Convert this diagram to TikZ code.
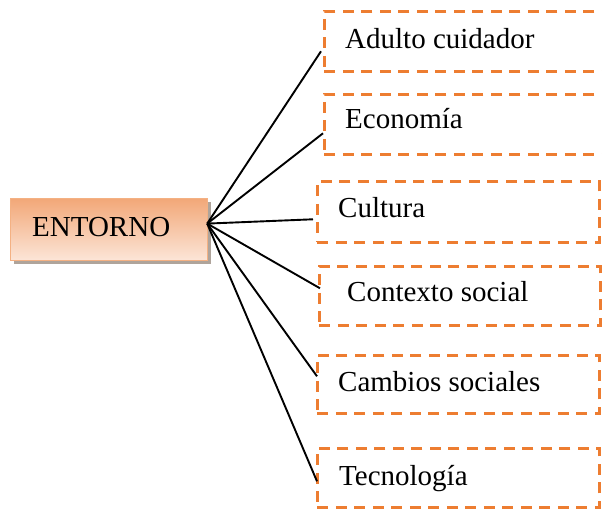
\documentclass[tikz,border=0pt]{standalone}
\usepackage{fontspec}
\setmainfont{Liberation Serif}
\usetikzlibrary{shadows}
\definecolor{dorange}{HTML}{ED7D31}
\definecolor{eTop}{HTML}{F2A878}
\definecolor{eBot}{HTML}{FCE6D8}
\definecolor{eBorder}{HTML}{F4B183}
\definecolor{shadowgray}{HTML}{AFA49B}
\tikzset{
  dbox/.style={draw=dorange, line width=2.6pt, dash pattern=on 11pt off 7.5pt, rectangle, inner sep=0pt, anchor=north west},
  lbl/.style={font=\fontsize{29}{34}\selectfont, inner sep=0pt, anchor=base west},
  conn/.style={line width=1.9pt, black},
  mainbox/.style={rectangle, inner sep=0pt, anchor=north west, top color=eTop, bottom color=eBot, draw=eBorder, line width=1.2pt,
    drop shadow={shadow xshift=3pt, shadow yshift=-3pt, fill=shadowgray, opacity=1}}
}
\begin{document}
\begin{tikzpicture}[x=1pt,y=-1pt]
\useasboundingbox (0,0) rectangle (602,510);
\clip (0,0) rectangle (602,510);
% central box
\node[mainbox, minimum width=197pt, minimum height=62pt] (e) at (10,198) {};
\node[lbl] (te) at (32,237) {ENTORNO};
% dashed boxes
\node[dbox, minimum width=290pt, minimum height=60pt] (b1) at (323,10) {};
\node[dbox, minimum width=290pt, minimum height=60pt] (b2) at (323,93) {};
\node[dbox, minimum width=282pt, minimum height=61pt] (b3) at (316,180) {};
\node[dbox, minimum width=281pt, minimum height=59pt] (b4) at (318,265) {};
\node[dbox, minimum width=282pt, minimum height=58pt] (b5) at (316,354) {};
\node[dbox, minimum width=282pt, minimum height=59pt] (b6) at (316,447) {};
% labels
\node[lbl] (t1) at (345,49) {Adulto cuidador};
\node[lbl] (t2) at (345,129) {Economía};
\node[lbl] (t3) at (338,218) {Cultura};
\node[lbl] (t4) at (347,302) {Contexto social};
\node[lbl] (t5) at (338,391) {Cambios sociales};
\node[lbl] (t6) at (339,485) {Tecnología};
% connectors
\coordinate (hub) at ([xshift=-1pt,yshift=6pt]e.east);
\draw[conn] (hub) -- ([xshift=-2pt,yshift=-10pt]b1.west);
\draw[conn] (hub) -- ([yshift=-9pt]b2.west);
\draw[conn] (hub) -- ([xshift=-3pt,yshift=-7.5pt]b3.west);
\draw[conn] (hub) -- ([xshift=2pt,yshift=7.5pt]b4.west);
\draw[conn] (hub) -- ([xshift=1pt,yshift=8pt]b5.west);
\draw[conn] (hub) -- ([xshift=1pt,yshift=-3.5pt]b6.west);
\end{tikzpicture}
\end{document}
